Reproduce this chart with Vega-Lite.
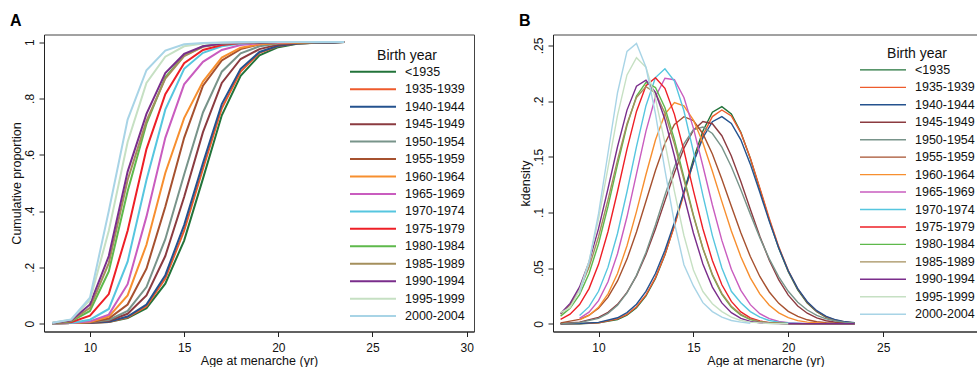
{
"$schema": "https://vega.github.io/schema/vega-lite/v6.json",
"background": "white",
"padding": {"left": 9, "top": 11.5, "right": 0, "bottom": 0},
"spacing": 43,
"datasets": {
"cdf": [
{"c":"<1935","x":8,"y":0.001},{"c":"<1935","x":9,"y":0.002},{"c":"<1935","x":10,"y":0.003},{"c":"<1935","x":11,"y":0.006},{"c":"<1935","x":12,"y":0.02},{"c":"<1935","x":13,"y":0.055},{"c":"<1935","x":14,"y":0.142},{"c":"<1935","x":15,"y":0.295},{"c":"<1935","x":16,"y":0.515},{"c":"<1935","x":17,"y":0.74},{"c":"<1935","x":18,"y":0.88},{"c":"<1935","x":19,"y":0.953},{"c":"<1935","x":20,"y":0.982},{"c":"<1935","x":21,"y":0.994},{"c":"<1935","x":22,"y":0.998},{"c":"<1935","x":23,"y":0.999},{"c":"<1935","x":23.5,"y":1},
{"c":"1935-1939","x":8,"y":0.001},{"c":"1935-1939","x":9,"y":0.002},{"c":"1935-1939","x":10,"y":0.003},{"c":"1935-1939","x":11,"y":0.006},{"c":"1935-1939","x":12,"y":0.022},{"c":"1935-1939","x":13,"y":0.062},{"c":"1935-1939","x":14,"y":0.16},{"c":"1935-1939","x":15,"y":0.33},{"c":"1935-1939","x":16,"y":0.55},{"c":"1935-1939","x":17,"y":0.765},{"c":"1935-1939","x":18,"y":0.895},{"c":"1935-1939","x":19,"y":0.962},{"c":"1935-1939","x":20,"y":0.986},{"c":"1935-1939","x":21,"y":0.995},{"c":"1935-1939","x":22,"y":0.998},{"c":"1935-1939","x":23,"y":0.999},{"c":"1935-1939","x":23.5,"y":1},
{"c":"1940-1944","x":8,"y":0.001},{"c":"1940-1944","x":9,"y":0.002},{"c":"1940-1944","x":10,"y":0.003},{"c":"1940-1944","x":11,"y":0.007},{"c":"1940-1944","x":12,"y":0.025},{"c":"1940-1944","x":13,"y":0.068},{"c":"1940-1944","x":14,"y":0.172},{"c":"1940-1944","x":15,"y":0.35},{"c":"1940-1944","x":16,"y":0.57},{"c":"1940-1944","x":17,"y":0.78},{"c":"1940-1944","x":18,"y":0.905},{"c":"1940-1944","x":19,"y":0.965},{"c":"1940-1944","x":20,"y":0.987},{"c":"1940-1944","x":21,"y":0.995},{"c":"1940-1944","x":22,"y":0.998},{"c":"1940-1944","x":23,"y":0.999},{"c":"1940-1944","x":23.5,"y":1},
{"c":"1945-1949","x":8,"y":0.001},{"c":"1945-1949","x":9,"y":0.002},{"c":"1945-1949","x":10,"y":0.004},{"c":"1945-1949","x":11,"y":0.01},{"c":"1945-1949","x":12,"y":0.035},{"c":"1945-1949","x":13,"y":0.1},{"c":"1945-1949","x":14,"y":0.24},{"c":"1945-1949","x":15,"y":0.45},{"c":"1945-1949","x":16,"y":0.68},{"c":"1945-1949","x":17,"y":0.855},{"c":"1945-1949","x":18,"y":0.94},{"c":"1945-1949","x":19,"y":0.975},{"c":"1945-1949","x":20,"y":0.991},{"c":"1945-1949","x":21,"y":0.997},{"c":"1945-1949","x":22,"y":0.999},{"c":"1945-1949","x":23,"y":1},{"c":"1945-1949","x":23.5,"y":1},
{"c":"1950-1954","x":8,"y":0.001},{"c":"1950-1954","x":9,"y":0.002},{"c":"1950-1954","x":10,"y":0.005},{"c":"1950-1954","x":11,"y":0.013},{"c":"1950-1954","x":12,"y":0.045},{"c":"1950-1954","x":13,"y":0.13},{"c":"1950-1954","x":14,"y":0.3},{"c":"1950-1954","x":15,"y":0.53},{"c":"1950-1954","x":16,"y":0.75},{"c":"1950-1954","x":17,"y":0.895},{"c":"1950-1954","x":18,"y":0.96},{"c":"1950-1954","x":19,"y":0.985},{"c":"1950-1954","x":20,"y":0.995},{"c":"1950-1954","x":21,"y":0.998},{"c":"1950-1954","x":22,"y":0.999},{"c":"1950-1954","x":23,"y":1},{"c":"1950-1954","x":23.5,"y":1},
{"c":"1955-1959","x":8,"y":0.001},{"c":"1955-1959","x":9,"y":0.002},{"c":"1955-1959","x":10,"y":0.005},{"c":"1955-1959","x":11,"y":0.018},{"c":"1955-1959","x":12,"y":0.068},{"c":"1955-1959","x":13,"y":0.195},{"c":"1955-1959","x":14,"y":0.415},{"c":"1955-1959","x":15,"y":0.66},{"c":"1955-1959","x":16,"y":0.845},{"c":"1955-1959","x":17,"y":0.935},{"c":"1955-1959","x":18,"y":0.975},{"c":"1955-1959","x":19,"y":0.992},{"c":"1955-1959","x":20,"y":0.998},{"c":"1955-1959","x":21,"y":0.999},{"c":"1955-1959","x":22,"y":1},{"c":"1955-1959","x":23,"y":1},{"c":"1955-1959","x":23.5,"y":1},
{"c":"1960-1964","x":8,"y":0.001},{"c":"1960-1964","x":9,"y":0.002},{"c":"1960-1964","x":10,"y":0.006},{"c":"1960-1964","x":11,"y":0.025},{"c":"1960-1964","x":12,"y":0.1},{"c":"1960-1964","x":13,"y":0.28},{"c":"1960-1964","x":14,"y":0.535},{"c":"1960-1964","x":15,"y":0.73},{"c":"1960-1964","x":16,"y":0.86},{"c":"1960-1964","x":17,"y":0.945},{"c":"1960-1964","x":18,"y":0.98},{"c":"1960-1964","x":19,"y":0.992},{"c":"1960-1964","x":20,"y":0.997},{"c":"1960-1964","x":21,"y":0.999},{"c":"1960-1964","x":22,"y":1},{"c":"1960-1964","x":23,"y":1},{"c":"1960-1964","x":23.5,"y":1},
{"c":"1965-1969","x":8,"y":0.001},{"c":"1965-1969","x":9,"y":0.002},{"c":"1965-1969","x":10,"y":0.008},{"c":"1965-1969","x":11,"y":0.032},{"c":"1965-1969","x":12,"y":0.14},{"c":"1965-1969","x":13,"y":0.38},{"c":"1965-1969","x":14,"y":0.66},{"c":"1965-1969","x":15,"y":0.85},{"c":"1965-1969","x":16,"y":0.93},{"c":"1965-1969","x":17,"y":0.972},{"c":"1965-1969","x":18,"y":0.99},{"c":"1965-1969","x":19,"y":0.996},{"c":"1965-1969","x":20,"y":0.999},{"c":"1965-1969","x":21,"y":1},{"c":"1965-1969","x":22,"y":1},{"c":"1965-1969","x":23,"y":1},{"c":"1965-1969","x":23.5,"y":1},
{"c":"1970-1974","x":8,"y":0.001},{"c":"1970-1974","x":9,"y":0.002},{"c":"1970-1974","x":10,"y":0.014},{"c":"1970-1974","x":11,"y":0.052},{"c":"1970-1974","x":12,"y":0.22},{"c":"1970-1974","x":13,"y":0.51},{"c":"1970-1974","x":14,"y":0.76},{"c":"1970-1974","x":15,"y":0.905},{"c":"1970-1974","x":16,"y":0.962},{"c":"1970-1974","x":17,"y":0.985},{"c":"1970-1974","x":18,"y":0.995},{"c":"1970-1974","x":19,"y":0.998},{"c":"1970-1974","x":20,"y":1},{"c":"1970-1974","x":21,"y":1},{"c":"1970-1974","x":22,"y":1},{"c":"1970-1974","x":23,"y":1},{"c":"1970-1974","x":23.5,"y":1},
{"c":"1975-1979","x":8,"y":0.002},{"c":"1975-1979","x":9,"y":0.005},{"c":"1975-1979","x":10,"y":0.028},{"c":"1975-1979","x":11,"y":0.105},{"c":"1975-1979","x":12,"y":0.33},{"c":"1975-1979","x":13,"y":0.62},{"c":"1975-1979","x":14,"y":0.815},{"c":"1975-1979","x":15,"y":0.925},{"c":"1975-1979","x":16,"y":0.972},{"c":"1975-1979","x":17,"y":0.99},{"c":"1975-1979","x":18,"y":0.997},{"c":"1975-1979","x":19,"y":0.999},{"c":"1975-1979","x":20,"y":1},{"c":"1975-1979","x":21,"y":1},{"c":"1975-1979","x":22,"y":1},{"c":"1975-1979","x":23,"y":1},{"c":"1975-1979","x":23.5,"y":1},
{"c":"1980-1984","x":8,"y":0.001},{"c":"1980-1984","x":9,"y":0.008},{"c":"1980-1984","x":10,"y":0.045},{"c":"1980-1984","x":11,"y":0.185},{"c":"1980-1984","x":12,"y":0.47},{"c":"1980-1984","x":13,"y":0.71},{"c":"1980-1984","x":14,"y":0.875},{"c":"1980-1984","x":15,"y":0.952},{"c":"1980-1984","x":16,"y":0.985},{"c":"1980-1984","x":17,"y":0.995},{"c":"1980-1984","x":18,"y":0.998},{"c":"1980-1984","x":19,"y":0.999},{"c":"1980-1984","x":20,"y":1},{"c":"1980-1984","x":21,"y":1},{"c":"1980-1984","x":22,"y":1},{"c":"1980-1984","x":23,"y":1},{"c":"1980-1984","x":23.5,"y":1},
{"c":"1985-1989","x":8,"y":0.002},{"c":"1985-1989","x":9,"y":0.01},{"c":"1985-1989","x":10,"y":0.056},{"c":"1985-1989","x":11,"y":0.215},{"c":"1985-1989","x":12,"y":0.51},{"c":"1985-1989","x":13,"y":0.72},{"c":"1985-1989","x":14,"y":0.87},{"c":"1985-1989","x":15,"y":0.95},{"c":"1985-1989","x":16,"y":0.983},{"c":"1985-1989","x":17,"y":0.994},{"c":"1985-1989","x":18,"y":0.998},{"c":"1985-1989","x":19,"y":0.999},{"c":"1985-1989","x":20,"y":1},{"c":"1985-1989","x":21,"y":1},{"c":"1985-1989","x":22,"y":1},{"c":"1985-1989","x":23,"y":1},{"c":"1985-1989","x":23.5,"y":1},
{"c":"1990-1994","x":8,"y":0.002},{"c":"1990-1994","x":9,"y":0.012},{"c":"1990-1994","x":10,"y":0.068},{"c":"1990-1994","x":11,"y":0.24},{"c":"1990-1994","x":12,"y":0.54},{"c":"1990-1994","x":13,"y":0.745},{"c":"1990-1994","x":14,"y":0.89},{"c":"1990-1994","x":15,"y":0.958},{"c":"1990-1994","x":16,"y":0.985},{"c":"1990-1994","x":17,"y":0.995},{"c":"1990-1994","x":18,"y":0.998},{"c":"1990-1994","x":19,"y":0.999},{"c":"1990-1994","x":20,"y":1},{"c":"1990-1994","x":21,"y":1},{"c":"1990-1994","x":22,"y":1},{"c":"1990-1994","x":23,"y":1},{"c":"1990-1994","x":23.5,"y":1},
{"c":"1995-1999","x":8,"y":0.003},{"c":"1995-1999","x":9,"y":0.014},{"c":"1995-1999","x":10,"y":0.083},{"c":"1995-1999","x":11,"y":0.33},{"c":"1995-1999","x":12,"y":0.645},{"c":"1995-1999","x":13,"y":0.855},{"c":"1995-1999","x":14,"y":0.948},{"c":"1995-1999","x":15,"y":0.985},{"c":"1995-1999","x":16,"y":0.995},{"c":"1995-1999","x":17,"y":0.998},{"c":"1995-1999","x":18,"y":0.999},{"c":"1995-1999","x":19,"y":1},{"c":"1995-1999","x":20,"y":1},{"c":"1995-1999","x":21,"y":1},{"c":"1995-1999","x":22,"y":1},{"c":"1995-1999","x":23,"y":1},{"c":"1995-1999","x":23.5,"y":1},
{"c":"2000-2004","x":8,"y":0.003},{"c":"2000-2004","x":9,"y":0.015},{"c":"2000-2004","x":10,"y":0.092},{"c":"2000-2004","x":11,"y":0.4},{"c":"2000-2004","x":12,"y":0.725},{"c":"2000-2004","x":13,"y":0.9},{"c":"2000-2004","x":14,"y":0.97},{"c":"2000-2004","x":15,"y":0.992},{"c":"2000-2004","x":16,"y":0.997},{"c":"2000-2004","x":17,"y":0.999},{"c":"2000-2004","x":18,"y":1},{"c":"2000-2004","x":19,"y":1},{"c":"2000-2004","x":20,"y":1},{"c":"2000-2004","x":21,"y":1},{"c":"2000-2004","x":22,"y":1},{"c":"2000-2004","x":23,"y":1},{"c":"2000-2004","x":23.5,"y":1}
],
"kd": [
{"c":"<1935","x":8,"y":0.0},{"c":"<1935","x":9,"y":0.0001},{"c":"<1935","x":10,"y":0.0008},{"c":"<1935","x":11,"y":0.0039},{"c":"<1935","x":11.5,"y":0.0078},{"c":"<1935","x":12,"y":0.0144},{"c":"<1935","x":12.5,"y":0.025},{"c":"<1935","x":13,"y":0.0408},{"c":"<1935","x":13.5,"y":0.0621},{"c":"<1935","x":14,"y":0.0886},{"c":"<1935","x":14.5,"y":0.1183},{"c":"<1935","x":15,"y":0.1479},{"c":"<1935","x":15.5,"y":0.1732},{"c":"<1935","x":16,"y":0.19},{"c":"<1935","x":16.5,"y":0.195},{"c":"<1935","x":17,"y":0.1884},{"c":"<1935","x":17.5,"y":0.1721},{"c":"<1935","x":18,"y":0.1485},{"c":"<1935","x":18.5,"y":0.1211},{"c":"<1935","x":19,"y":0.0933},{"c":"<1935","x":19.5,"y":0.0679},{"c":"<1935","x":20,"y":0.0467},{"c":"<1935","x":20.5,"y":0.0304},{"c":"<1935","x":21,"y":0.0187},{"c":"<1935","x":21.5,"y":0.0108},{"c":"<1935","x":22,"y":0.0059},{"c":"<1935","x":22.5,"y":0.0031},{"c":"<1935","x":23,"y":0.0015},{"c":"<1935","x":23.5,"y":0.0007},
{"c":"1935-1939","x":8,"y":0.0},{"c":"1935-1939","x":9,"y":0.0002},{"c":"1935-1939","x":10,"y":0.001},{"c":"1935-1939","x":11,"y":0.0044},{"c":"1935-1939","x":11.5,"y":0.0084},{"c":"1935-1939","x":12,"y":0.0153},{"c":"1935-1939","x":12.5,"y":0.026},{"c":"1935-1939","x":13,"y":0.0415},{"c":"1935-1939","x":13.5,"y":0.0623},{"c":"1935-1939","x":14,"y":0.0879},{"c":"1935-1939","x":14.5,"y":0.1165},{"c":"1935-1939","x":15,"y":0.1449},{"c":"1935-1939","x":15.5,"y":0.1694},{"c":"1935-1939","x":16,"y":0.1861},{"c":"1935-1939","x":16.5,"y":0.192},{"c":"1935-1939","x":17,"y":0.1866},{"c":"1935-1939","x":17.5,"y":0.1715},{"c":"1935-1939","x":18,"y":0.1488},{"c":"1935-1939","x":18.5,"y":0.1221},{"c":"1935-1939","x":19,"y":0.0946},{"c":"1935-1939","x":19.5,"y":0.0691},{"c":"1935-1939","x":20,"y":0.0478},{"c":"1935-1939","x":20.5,"y":0.0313},{"c":"1935-1939","x":21,"y":0.0193},{"c":"1935-1939","x":21.5,"y":0.0113},{"c":"1935-1939","x":22,"y":0.0062},{"c":"1935-1939","x":22.5,"y":0.0032},{"c":"1935-1939","x":23,"y":0.0016},{"c":"1935-1939","x":23.5,"y":0.0007},
{"c":"1940-1944","x":8,"y":0.0},{"c":"1940-1944","x":9,"y":0.0003},{"c":"1940-1944","x":10,"y":0.0013},{"c":"1940-1944","x":11,"y":0.0054},{"c":"1940-1944","x":11.5,"y":0.0101},{"c":"1940-1944","x":12,"y":0.0176},{"c":"1940-1944","x":12.5,"y":0.0291},{"c":"1940-1944","x":13,"y":0.0452},{"c":"1940-1944","x":13.5,"y":0.066},{"c":"1940-1944","x":14,"y":0.0911},{"c":"1940-1944","x":14.5,"y":0.1184},{"c":"1940-1944","x":15,"y":0.1448},{"c":"1940-1944","x":15.5,"y":0.1671},{"c":"1940-1944","x":16,"y":0.1815},{"c":"1940-1944","x":16.5,"y":0.186},{"c":"1940-1944","x":17,"y":0.18},{"c":"1940-1944","x":17.5,"y":0.1652},{"c":"1940-1944","x":18,"y":0.1434},{"c":"1940-1944","x":18.5,"y":0.1181},{"c":"1940-1944","x":19,"y":0.092},{"c":"1940-1944","x":19.5,"y":0.068},{"c":"1940-1944","x":20,"y":0.0476},{"c":"1940-1944","x":20.5,"y":0.0316},{"c":"1940-1944","x":21,"y":0.0198},{"c":"1940-1944","x":21.5,"y":0.0118},{"c":"1940-1944","x":22,"y":0.0066},{"c":"1940-1944","x":22.5,"y":0.0036},{"c":"1940-1944","x":23,"y":0.0018},{"c":"1940-1944","x":23.5,"y":0.0009},
{"c":"1945-1949","x":8,"y":0.0003},{"c":"1945-1949","x":9,"y":0.0015},{"c":"1945-1949","x":10,"y":0.0058},{"c":"1945-1949","x":10.5,"y":0.0103},{"c":"1945-1949","x":11,"y":0.0175},{"c":"1945-1949","x":11.5,"y":0.0282},{"c":"1945-1949","x":12,"y":0.0431},{"c":"1945-1949","x":12.5,"y":0.0622},{"c":"1945-1949","x":13,"y":0.0852},{"c":"1945-1949","x":13.5,"y":0.1104},{"c":"1945-1949","x":14,"y":0.1356},{"c":"1945-1949","x":14.5,"y":0.1577},{"c":"1945-1949","x":15,"y":0.1739},{"c":"1945-1949","x":15.5,"y":0.1816},{"c":"1945-1949","x":16,"y":0.1797},{"c":"1945-1949","x":16.5,"y":0.1689},{"c":"1945-1949","x":17,"y":0.1507},{"c":"1945-1949","x":17.5,"y":0.1278},{"c":"1945-1949","x":18,"y":0.1029},{"c":"1945-1949","x":18.5,"y":0.0787},{"c":"1945-1949","x":19,"y":0.0571},{"c":"1945-1949","x":19.5,"y":0.0394},{"c":"1945-1949","x":20,"y":0.0258},{"c":"1945-1949","x":20.5,"y":0.016},{"c":"1945-1949","x":21,"y":0.0095},{"c":"1945-1949","x":21.5,"y":0.0053},{"c":"1945-1949","x":22,"y":0.0028},{"c":"1945-1949","x":22.5,"y":0.0014},{"c":"1945-1949","x":23,"y":0.0007},{"c":"1945-1949","x":23.5,"y":0.0003},
{"c":"1950-1954","x":8,"y":0.0002},{"c":"1950-1954","x":9,"y":0.0011},{"c":"1950-1954","x":10,"y":0.0049},{"c":"1950-1954","x":10.5,"y":0.0094},{"c":"1950-1954","x":11,"y":0.0166},{"c":"1950-1954","x":11.5,"y":0.0277},{"c":"1950-1954","x":12,"y":0.0435},{"c":"1950-1954","x":12.5,"y":0.0641},{"c":"1950-1954","x":13,"y":0.0887},{"c":"1950-1954","x":13.5,"y":0.1154},{"c":"1950-1954","x":14,"y":0.1409},{"c":"1950-1954","x":14.5,"y":0.1617},{"c":"1950-1954","x":15,"y":0.1743},{"c":"1950-1954","x":15.5,"y":0.1767},{"c":"1950-1954","x":16,"y":0.1709},{"c":"1950-1954","x":16.5,"y":0.1586},{"c":"1950-1954","x":17,"y":0.1411},{"c":"1950-1954","x":17.5,"y":0.1204},{"c":"1950-1954","x":18,"y":0.0985},{"c":"1950-1954","x":18.5,"y":0.0774},{"c":"1950-1954","x":19,"y":0.0583},{"c":"1950-1954","x":19.5,"y":0.0422},{"c":"1950-1954","x":20,"y":0.0292},{"c":"1950-1954","x":20.5,"y":0.0194},{"c":"1950-1954","x":21,"y":0.0124},{"c":"1950-1954","x":21.5,"y":0.0076},{"c":"1950-1954","x":22,"y":0.0045},{"c":"1950-1954","x":22.5,"y":0.0025},{"c":"1950-1954","x":23,"y":0.0013},{"c":"1950-1954","x":23.5,"y":0.0007},
{"c":"1955-1959","x":8,"y":0.0009},{"c":"1955-1959","x":9,"y":0.004},{"c":"1955-1959","x":9.5,"y":0.0077},{"c":"1955-1959","x":10,"y":0.014},{"c":"1955-1959","x":10.5,"y":0.0239},{"c":"1955-1959","x":11,"y":0.0385},{"c":"1955-1959","x":11.5,"y":0.0581},{"c":"1955-1959","x":12,"y":0.0825},{"c":"1955-1959","x":12.5,"y":0.11},{"c":"1955-1959","x":13,"y":0.1377},{"c":"1955-1959","x":13.5,"y":0.162},{"c":"1955-1959","x":14,"y":0.1791},{"c":"1955-1959","x":14.5,"y":0.186},{"c":"1955-1959","x":15,"y":0.1825},{"c":"1955-1959","x":15.5,"y":0.1707},{"c":"1955-1959","x":16,"y":0.1525},{"c":"1955-1959","x":16.5,"y":0.1299},{"c":"1955-1959","x":17,"y":0.1055},{"c":"1955-1959","x":17.5,"y":0.0817},{"c":"1955-1959","x":18,"y":0.0604},{"c":"1955-1959","x":18.5,"y":0.0425},{"c":"1955-1959","x":19,"y":0.0286},{"c":"1955-1959","x":19.5,"y":0.0184},{"c":"1955-1959","x":20,"y":0.0112},{"c":"1955-1959","x":20.5,"y":0.0066},{"c":"1955-1959","x":21,"y":0.0036},{"c":"1955-1959","x":21.5,"y":0.0019},{"c":"1955-1959","x":22,"y":0.001},{"c":"1955-1959","x":23,"y":0.0002},{"c":"1955-1959","x":23.5,"y":0.0001},
{"c":"1960-1964","x":9,"y":0.0036},{"c":"1960-1964","x":9.5,"y":0.0076},{"c":"1960-1964","x":10,"y":0.0148},{"c":"1960-1964","x":10.5,"y":0.0269},{"c":"1960-1964","x":11,"y":0.0452},{"c":"1960-1964","x":11.5,"y":0.0701},{"c":"1960-1964","x":12,"y":0.1008},{"c":"1960-1964","x":12.5,"y":0.1341},{"c":"1960-1964","x":13,"y":0.1651},{"c":"1960-1964","x":13.5,"y":0.1883},{"c":"1960-1964","x":14,"y":0.1987},{"c":"1960-1964","x":14.5,"y":0.1957},{"c":"1960-1964","x":15,"y":0.183},{"c":"1960-1964","x":15.5,"y":0.1625},{"c":"1960-1964","x":16,"y":0.137},{"c":"1960-1964","x":16.5,"y":0.1097},{"c":"1960-1964","x":17,"y":0.0834},{"c":"1960-1964","x":17.5,"y":0.0603},{"c":"1960-1964","x":18,"y":0.0413},{"c":"1960-1964","x":18.5,"y":0.0269},{"c":"1960-1964","x":19,"y":0.0167},{"c":"1960-1964","x":19.5,"y":0.0098},{"c":"1960-1964","x":20,"y":0.0055},{"c":"1960-1964","x":20.5,"y":0.0029},{"c":"1960-1964","x":21,"y":0.0015},{"c":"1960-1964","x":22,"y":0.0003},{"c":"1960-1964","x":23.5,"y":0.0},
{"c":"1965-1969","x":9,"y":0.0049},{"c":"1965-1969","x":9.5,"y":0.0105},{"c":"1965-1969","x":10,"y":0.0208},{"c":"1965-1969","x":10.5,"y":0.0378},{"c":"1965-1969","x":11,"y":0.0629},{"c":"1965-1969","x":11.5,"y":0.0961},{"c":"1965-1969","x":12,"y":0.1346},{"c":"1965-1969","x":12.5,"y":0.173},{"c":"1965-1969","x":13,"y":0.2039},{"c":"1965-1969","x":13.5,"y":0.2205},{"c":"1965-1969","x":14,"y":0.2192},{"c":"1965-1969","x":14.5,"y":0.2032},{"c":"1965-1969","x":15,"y":0.1757},{"c":"1965-1969","x":15.5,"y":0.1417},{"c":"1965-1969","x":16,"y":0.1067},{"c":"1965-1969","x":16.5,"y":0.0749},{"c":"1965-1969","x":17,"y":0.049},{"c":"1965-1969","x":17.5,"y":0.03},{"c":"1965-1969","x":18,"y":0.0172},{"c":"1965-1969","x":18.5,"y":0.0091},{"c":"1965-1969","x":19,"y":0.0046},{"c":"1965-1969","x":19.5,"y":0.0021},{"c":"1965-1969","x":20,"y":0.0009},{"c":"1965-1969","x":21,"y":0.0001},{"c":"1965-1969","x":23.5,"y":0.0},
{"c":"1970-1974","x":9,"y":0.0074},{"c":"1970-1974","x":9.5,"y":0.0154},{"c":"1970-1974","x":10,"y":0.0292},{"c":"1970-1974","x":10.5,"y":0.0509},{"c":"1970-1974","x":11,"y":0.0811},{"c":"1970-1974","x":11.5,"y":0.1186},{"c":"1970-1974","x":12,"y":0.1591},{"c":"1970-1974","x":12.5,"y":0.1959},{"c":"1970-1974","x":13,"y":0.2211},{"c":"1970-1974","x":13.5,"y":0.229},{"c":"1970-1974","x":14,"y":0.218},{"c":"1970-1974","x":14.5,"y":0.1913},{"c":"1970-1974","x":15,"y":0.1547},{"c":"1970-1974","x":15.5,"y":0.1153},{"c":"1970-1974","x":16,"y":0.0792},{"c":"1970-1974","x":16.5,"y":0.0501},{"c":"1970-1974","x":17,"y":0.0292},{"c":"1970-1974","x":17.5,"y":0.019},{"c":"1970-1974","x":18,"y":0.011},{"c":"1970-1974","x":18.5,"y":0.006},{"c":"1970-1974","x":19,"y":0.003},{"c":"1970-1974","x":19.5,"y":0.0015},{"c":"1970-1974","x":20,"y":0.0007},{"c":"1970-1974","x":21,"y":0.0001},{"c":"1970-1974","x":23.5,"y":0.0},
{"c":"1975-1979","x":8,"y":0.004},{"c":"1975-1979","x":8.5,"y":0.0087},{"c":"1975-1979","x":9,"y":0.0173},{"c":"1975-1979","x":9.5,"y":0.0316},{"c":"1975-1979","x":10,"y":0.0534},{"c":"1975-1979","x":10.5,"y":0.0829},{"c":"1975-1979","x":11,"y":0.1188},{"c":"1975-1979","x":11.5,"y":0.1568},{"c":"1975-1979","x":12,"y":0.1907},{"c":"1975-1979","x":12.5,"y":0.2138},{"c":"1975-1979","x":13,"y":0.221},{"c":"1975-1979","x":13.5,"y":0.2115},{"c":"1975-1979","x":14,"y":0.1881},{"c":"1975-1979","x":14.5,"y":0.1556},{"c":"1975-1979","x":15,"y":0.1196},{"c":"1975-1979","x":15.5,"y":0.0854},{"c":"1975-1979","x":16,"y":0.0568},{"c":"1975-1979","x":16.5,"y":0.0351},{"c":"1975-1979","x":17,"y":0.0201},{"c":"1975-1979","x":17.5,"y":0.0107},{"c":"1975-1979","x":18,"y":0.0053},{"c":"1975-1979","x":18.5,"y":0.0025},{"c":"1975-1979","x":19,"y":0.0011},{"c":"1975-1979","x":19.5,"y":0.0005},{"c":"1975-1979","x":20,"y":0.0002},{"c":"1975-1979","x":21,"y":0.0},{"c":"1975-1979","x":23.5,"y":0.0},
{"c":"1980-1984","x":8,"y":0.0069},{"c":"1980-1984","x":8.5,"y":0.0139},{"c":"1980-1984","x":9,"y":0.0262},{"c":"1980-1984","x":9.5,"y":0.0452},{"c":"1980-1984","x":10,"y":0.0719},{"c":"1980-1984","x":10.5,"y":0.1056},{"c":"1980-1984","x":11,"y":0.1429},{"c":"1980-1984","x":11.5,"y":0.1781},{"c":"1980-1984","x":12,"y":0.2046},{"c":"1980-1984","x":12.5,"y":0.2167},{"c":"1980-1984","x":13,"y":0.2122},{"c":"1980-1984","x":13.5,"y":0.194},{"c":"1980-1984","x":14,"y":0.1654},{"c":"1980-1984","x":14.5,"y":0.1316},{"c":"1980-1984","x":15,"y":0.0977},{"c":"1980-1984","x":15.5,"y":0.0677},{"c":"1980-1984","x":16,"y":0.0437},{"c":"1980-1984","x":16.5,"y":0.0264},{"c":"1980-1984","x":17,"y":0.0148},{"c":"1980-1984","x":17.5,"y":0.0078},{"c":"1980-1984","x":18,"y":0.0038},{"c":"1980-1984","x":18.5,"y":0.0018},{"c":"1980-1984","x":19,"y":0.0008},{"c":"1980-1984","x":20,"y":0.0001},{"c":"1980-1984","x":21,"y":0.0},{"c":"1980-1984","x":23.5,"y":0.0},
{"c":"1985-1989","x":8,"y":0.0087},{"c":"1985-1989","x":8.5,"y":0.017},{"c":"1985-1989","x":9,"y":0.0305},{"c":"1985-1989","x":9.5,"y":0.0507},{"c":"1985-1989","x":10,"y":0.0782},{"c":"1985-1989","x":10.5,"y":0.1114},{"c":"1985-1989","x":11,"y":0.147},{"c":"1985-1989","x":11.5,"y":0.1797},{"c":"1985-1989","x":12,"y":0.2033},{"c":"1985-1989","x":12.5,"y":0.213},{"c":"1985-1989","x":13,"y":0.2074},{"c":"1985-1989","x":13.5,"y":0.1892},{"c":"1985-1989","x":14,"y":0.1615},{"c":"1985-1989","x":14.5,"y":0.1292},{"c":"1985-1989","x":15,"y":0.0967},{"c":"1985-1989","x":15.5,"y":0.0678},{"c":"1985-1989","x":16,"y":0.0445},{"c":"1985-1989","x":16.5,"y":0.0274},{"c":"1985-1989","x":17,"y":0.0158},{"c":"1985-1989","x":17.5,"y":0.0085},{"c":"1985-1989","x":18,"y":0.0043},{"c":"1985-1989","x":18.5,"y":0.002},{"c":"1985-1989","x":19,"y":0.0009},{"c":"1985-1989","x":20,"y":0.0001},{"c":"1985-1989","x":21,"y":0.0},{"c":"1985-1989","x":23.5,"y":0.0},
{"c":"1990-1994","x":8,"y":0.0093},{"c":"1990-1994","x":8.5,"y":0.0183},{"c":"1990-1994","x":9,"y":0.0331},{"c":"1990-1994","x":9.5,"y":0.0555},{"c":"1990-1994","x":10,"y":0.0855},{"c":"1990-1994","x":10.5,"y":0.1215},{"c":"1990-1994","x":11,"y":0.159},{"c":"1990-1994","x":11.5,"y":0.1919},{"c":"1990-1994","x":12,"y":0.2133},{"c":"1990-1994","x":12.5,"y":0.2187},{"c":"1990-1994","x":13,"y":0.2078},{"c":"1990-1994","x":13.5,"y":0.1835},{"c":"1990-1994","x":14,"y":0.1507},{"c":"1990-1994","x":14.5,"y":0.115},{"c":"1990-1994","x":15,"y":0.0816},{"c":"1990-1994","x":15.5,"y":0.0538},{"c":"1990-1994","x":16,"y":0.033},{"c":"1990-1994","x":16.5,"y":0.0188},{"c":"1990-1994","x":17,"y":0.01},{"c":"1990-1994","x":17.5,"y":0.0049},{"c":"1990-1994","x":18,"y":0.0022},{"c":"1990-1994","x":18.5,"y":0.001},{"c":"1990-1994","x":19,"y":0.0004},{"c":"1990-1994","x":20,"y":0.0001},{"c":"1990-1994","x":21,"y":0.0},{"c":"1990-1994","x":23.5,"y":0.0},
{"c":"1995-1999","x":8,"y":0.01},{"c":"1995-1999","x":8.5,"y":0.0145},{"c":"1995-1999","x":9,"y":0.0303},{"c":"1995-1999","x":9.5,"y":0.0563},{"c":"1995-1999","x":10,"y":0.094},{"c":"1995-1999","x":10.5,"y":0.1402},{"c":"1995-1999","x":11,"y":0.1871},{"c":"1995-1999","x":11.5,"y":0.2235},{"c":"1995-1999","x":12,"y":0.239},{"c":"1995-1999","x":12.5,"y":0.2303},{"c":"1995-1999","x":13,"y":0.2025},{"c":"1995-1999","x":13.5,"y":0.1624},{"c":"1995-1999","x":14,"y":0.1189},{"c":"1995-1999","x":14.5,"y":0.0793},{"c":"1995-1999","x":15,"y":0.0483},{"c":"1995-1999","x":15.5,"y":0.029},{"c":"1995-1999","x":16,"y":0.018},{"c":"1995-1999","x":16.5,"y":0.011},{"c":"1995-1999","x":17,"y":0.006},{"c":"1995-1999","x":17.5,"y":0.003},{"c":"1995-1999","x":18,"y":0.0015},{"c":"1995-1999","x":19,"y":0.0003},{"c":"1995-1999","x":20,"y":0.0},
{"c":"2000-2004","x":9,"y":0.0273},{"c":"2000-2004","x":9.5,"y":0.0556},{"c":"2000-2004","x":10,"y":0.0989},{"c":"2000-2004","x":10.5,"y":0.1534},{"c":"2000-2004","x":11,"y":0.2075},{"c":"2000-2004","x":11.5,"y":0.2446},{"c":"2000-2004","x":12,"y":0.2517},{"c":"2000-2004","x":12.5,"y":0.2304},{"c":"2000-2004","x":13,"y":0.1886},{"c":"2000-2004","x":13.5,"y":0.1381},{"c":"2000-2004","x":14,"y":0.0906},{"c":"2000-2004","x":14.5,"y":0.0531},{"c":"2000-2004","x":15,"y":0.034},{"c":"2000-2004","x":15.5,"y":0.019},{"c":"2000-2004","x":16,"y":0.011},{"c":"2000-2004","x":16.5,"y":0.006},{"c":"2000-2004","x":17,"y":0.003},{"c":"2000-2004","x":17.5,"y":0.0015},{"c":"2000-2004","x":18,"y":0.0005}
]
},
"config": {
"font": "Liberation Sans",
"view": {"stroke": "#444", "strokeWidth": 1},
"axis": {"grid": false, "domainColor": "#222", "tickColor": "#222", "tickSize": 5, "labelColor": "#111", "titleColor": "#111", "labelFontSize": 12, "titleFontSize": 12.5, "titleFontWeight": "normal", "labelPadding": 3},
"axisX": {"labelPadding": 5.5, "titlePadding": 1},
"legend": {"orient": "none", "direction": "vertical", "symbolType": "stroke", "symbolSize": 2116, "clipHeight": 17, "rowPadding": 0.45, "labelFontSize": 12.5, "titleFontSize": 14, "titleFontWeight": "normal", "titleAnchor": "middle", "titleAlign": "center", "titlePadding": 0, "labelOffset": 8, "padding": 0, "labelColor": "#111", "titleColor": "#111", "labelLimit": 200},
"title": {"anchor": "start", "frame": "bounds", "fontSize": 16, "fontWeight": "bold", "color": "#000", "offset": 6}
},
"resolve": {"scale": {"color": "independent"}, "legend": {"color": "independent"}},
"hconcat": [
{
"title": {"text": "A"},
"width": 430, "height": 297,
"data": {"name": "cdf"},
"mark": {"type": "line", "strokeWidth": 2},
"encoding": {
"x": {"field": "x", "type": "quantitative", "scale": {"domain": [7.56, 30.39], "nice": false, "zero": false}, "axis": {"values": [10, 15, 20, 25, 30], "title": "Age at menarche (yr)"}},
"y": {"field": "y", "type": "quantitative", "scale": {"domain": [-0.028, 1.027], "nice": false, "zero": false}, "axis": {"values": [0, 0.2, 0.4, 0.6, 0.8, 1], "labelExpr": "replace(format(datum.value, '.1~f'), '0.', '.')", "labelAngle": -90, "labelAlign": "center", "labelBaseline": "bottom", "title": "Cumulative proportion", "titlePadding": 0}},
"color": {"field": "c", "type": "nominal",
"scale": {"domain": ["<1935","1935-1939","1940-1944","1945-1949","1950-1954","1955-1959","1960-1964","1965-1969","1970-1974","1975-1979","1980-1984","1985-1989","1990-1994","1995-1999","2000-2004"], "range": ["#22733a","#ee5b2c","#24528e","#8b3b40","#78948a","#a6512f","#f78f2f","#c95cbf","#56c6df","#ee1f26","#5eb94b","#a48f5c","#7a2d8b","#c6e0c3","#a8d4e6"]},
"legend": {"title": "Birth year", "legendX": 305, "legendY": 14.8, "symbolStrokeWidth": 2}}
}
},
{
"title": {"text": "B"},
"width": 425, "height": 297,
"data": {"name": "kd"},
"mark": {"type": "line", "strokeWidth": 1.4},
"encoding": {
"x": {"field": "x", "type": "quantitative", "scale": {"domain": [7.6, 30.0], "nice": false, "zero": false}, "axis": {"values": [10, 15, 20, 25, 30], "labelExpr": "datum.value == 30 ? '' : datum.label", "title": "Age at menarche (yr)"}},
"y": {"field": "y", "type": "quantitative", "scale": {"domain": [-0.0069, 0.2598], "nice": false, "zero": false}, "axis": {"values": [0, 0.05, 0.1, 0.15, 0.2, 0.25], "labelExpr": "replace(format(datum.value, '.2~f'), '0.', '.')", "labelAngle": -90, "labelAlign": "center", "labelBaseline": "bottom", "title": "kdensity", "titlePadding": 0}},
"color": {"field": "c", "type": "nominal",
"scale": {"domain": ["<1935","1935-1939","1940-1944","1945-1949","1950-1954","1955-1959","1960-1964","1965-1969","1970-1974","1975-1979","1980-1984","1985-1989","1990-1994","1995-1999","2000-2004"], "range": ["#22733a","#ee5b2c","#24528e","#8b3b40","#78948a","#a6512f","#f78f2f","#c95cbf","#56c6df","#ee1f26","#5eb94b","#a48f5c","#7a2d8b","#c6e0c3","#a8d4e6"]},
"legend": {"title": "Birth year", "legendX": 306, "legendY": 12.9, "symbolStrokeWidth": 1.4}}
}
}
]
}
